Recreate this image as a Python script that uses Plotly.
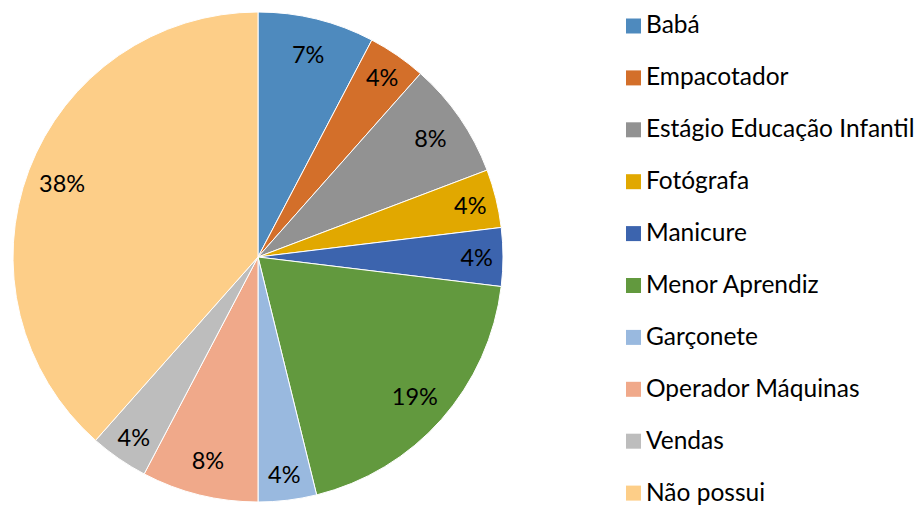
import plotly.graph_objects as go

categories = ["Babá", "Empacotador", "Estágio Educação Infantil", "Fotógrafa", "Manicure",
              "Menor Aprendiz", "Garçonete", "Operador Máquinas", "Vendas", "Não possui"]
counts = [2, 1, 2, 1, 1, 5, 1, 2, 1, 10]
pct_labels = ["7%", "4%", "8%", "4%", "4%", "19%", "4%", "8%", "4%", "38%"]
colors = ["#4E8ABE", "#D36F2A", "#929292", "#E1A800", "#3C64AE",
          "#62993E", "#99B9DF", "#F0A98A", "#BDBDBD", "#FDCE88"]

W, H = 923, 506
FONT = "Lato"
FS = 23.5
FS_LEG = 24.5
cx, cy, r = 258, 257, 245
dom = dict(x=[(cx - r) / W, (cx + r) / W], y=[(H - cy - r) / H, (H - cy + r) / H])

fig = go.Figure()
# coloured slices
fig.add_trace(go.Pie(
    labels=categories, values=counts,
    textinfo="none", sort=False, direction="clockwise", rotation=0,
    marker=dict(colors=colors, line=dict(color="white", width=1)),
    domain=dom, showlegend=False, hoverinfo="label+percent",
))
# transparent ring carrying the percentage labels near the rim
fig.add_trace(go.Pie(
    labels=categories, values=counts, text=pct_labels, hole=0.71,
    textinfo="text", textposition="inside", insidetextorientation="horizontal",
    sort=False, direction="clockwise", rotation=0,
    marker=dict(colors=["rgba(0,0,0,0)"] * len(counts), line=dict(width=0)),
    textfont=dict(family=FONT, size=FS, color="black"),
    domain=dom, showlegend=False, hoverinfo="skip",
))

shapes, annotations = [], []
y0, step = 26, 51.9
for i, (cat, col) in enumerate(zip(categories, colors)):
    yc = y0 + i * step
    shapes.append(dict(type="rect", xref="paper", yref="paper",
                       x0=626 / W, x1=641 / W, y0=1 - (yc + 7.5) / H, y1=1 - (yc - 7.5) / H,
                       fillcolor=col, line=dict(width=0)))
    annotations.append(dict(text=cat, xref="paper", yref="paper", x=644 / W, y=1 - (yc - 2) / H,
                            xanchor="left", yanchor="middle", showarrow=False,
                            font=dict(family=FONT, size=FS_LEG, color="black")))

fig.update_layout(width=W, height=H, margin=dict(l=0, r=0, t=0, b=0),
                  paper_bgcolor="white", plot_bgcolor="white",
                  uniformtext=dict(minsize=FS, mode="show"),
                  shapes=shapes, annotations=annotations)
fig.write_html("out.html", config=dict(displayModeBar=False),
               post_script="document.body.style.margin='0px';document.body.style.overflow='hidden';")
